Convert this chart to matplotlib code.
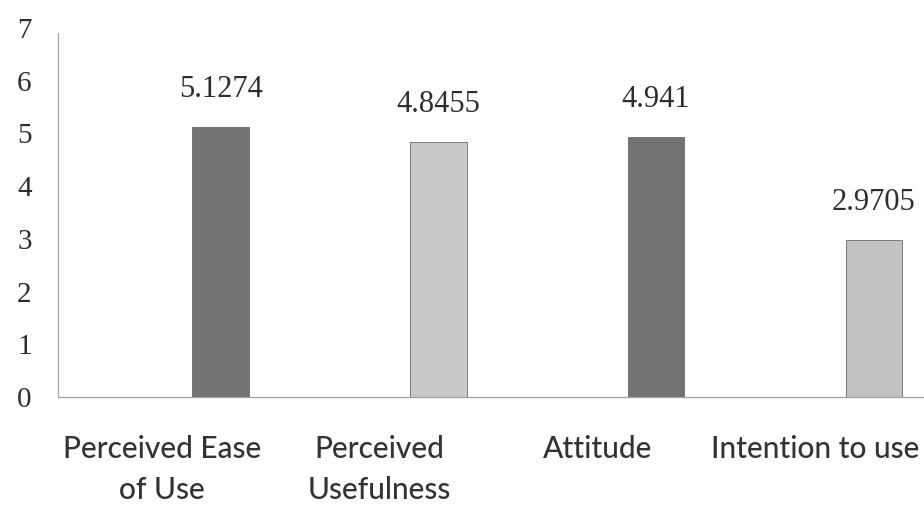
import matplotlib
matplotlib.use('Agg')
import matplotlib.pyplot as plt
import numpy as np

categories = ['Perceived Ease\nof Use', 'Perceived\nUsefulness', 'Attitude', 'Intention to use']
values = [5.1274, 4.8455, 4.941, 2.9705]
value_labels = ['5.1274', '4.8455', '4.941', '2.9705']
bar_colors = ['#737373', '#c9c9c9', '#737373', '#c2c2c2']
y_ticks = [0, 1, 2, 3, 4, 5, 6, 7]

fig = plt.figure(figsize=(9.24, 5.08), dpi=100)
ax = fig.add_axes([58/924, 111/508, 1 - 58/924, 369/508])

x = np.arange(len(categories))
offset = 0.27
bars = ax.bar(x + offset, values, width=0.26, color=bar_colors, edgecolor='#6a6a6a', linewidth=0.6)

for b, lab in zip(bars, value_labels):
    ax.annotate(lab, (b.get_x() + b.get_width()/2, b.get_height()),
                xytext=(0, 27), textcoords='offset points', ha='center', va='center',
                fontsize=22, family='Liberation Serif', color='#2e2e2e')

ax.set_xlim(-0.477, 3.5)
ax.set_ylim(0, 7)
ax.set_yticks(y_ticks)
ax.set_yticklabels([str(t) for t in y_ticks], family='Liberation Serif', fontsize=21, color='#2e2e2e')
ax.set_xticks(x)
ax.set_xticklabels(categories, family='Lato', fontsize=21.5, fontweight='medium',
                   color='#333333', linespacing=1.6)
ax.tick_params(axis='y', length=0, pad=19)
ax.tick_params(axis='x', length=0, pad=27)

for s in ['top', 'right']:
    ax.spines[s].set_visible(False)
ax.spines['left'].set_color('#a0a0a0')
ax.spines['left'].set_linewidth(0.8)
ax.spines['left'].set_bounds(0, 6.9)
ax.spines['bottom'].set_color('#a0a0a0')
ax.spines['bottom'].set_linewidth(0.9)
ax.spines['bottom'].set_linestyle((0, (2, 1)))

plt.savefig('out.png', dpi=100)
